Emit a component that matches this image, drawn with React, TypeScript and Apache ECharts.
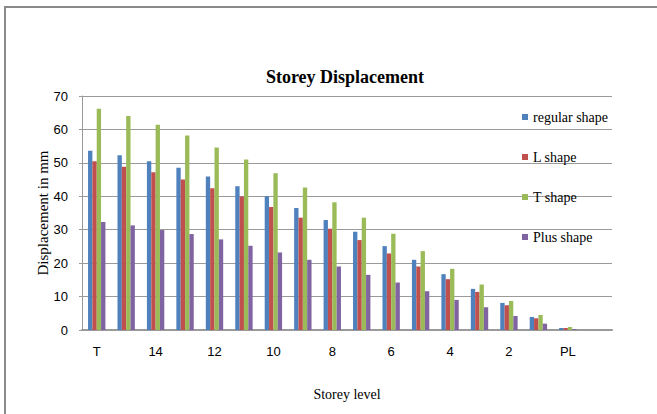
import React, { useEffect, useRef } from "react";
import * as echarts from "echarts";

const categories = ["T", "15", "14", "13", "12", "11", "10", "9", "8", "7", "6", "5", "4", "3", "2", "1", "PL", "Base"];
const regularShape = [53.6, 52.3, 50.5, 48.5, 45.9, 43.0, 40.0, 36.5, 32.9, 29.4, 25.1, 21.0, 16.7, 12.3, 8.1, 3.9, 0.6, 0];
const lShape = [50.5, 48.8, 47.2, 45.0, 42.4, 39.9, 36.8, 33.6, 30.3, 26.9, 22.9, 19.0, 15.2, 11.4, 7.4, 3.5, 0.6, 0];
const tShape = [66.2, 64.0, 61.4, 58.2, 54.6, 51.0, 46.9, 42.6, 38.2, 33.6, 28.8, 23.6, 18.3, 13.6, 8.7, 4.5, 0.9, 0];
const plusShape = [32.3, 31.3, 29.9, 28.7, 27.1, 25.2, 23.2, 21.0, 19.0, 16.5, 14.2, 11.6, 9.0, 6.8, 4.2, 1.9, 0.3, 0];
const yTicks = { min: 0, max: 70, interval: 10 };

const seriesNames = ["regular shape", "L shape", "T shape", "Plus shape"];
const seriesData = [regularShape, lShape, tShape, plusShape];
const colors = ["#4F81BD", "#C0504D", "#9BBB59", "#8064A2"];

export default function App() {
  const ref = useRef<HTMLDivElement>(null);
  useEffect(() => {
    document.body.style.margin = "0";
    if (!ref.current) return;
    const chart = echarts.init(ref.current, null, { renderer: "svg" });
    const serif = "'Liberation Serif', 'Times New Roman', serif";
    const sans = "'Liberation Sans', Arial, sans-serif";
    chart.setOption({
      animation: false,
      backgroundColor: "#ffffff",
      color: colors,
      title: {
        text: "Storey Displacement",
        left: 340,
        top: 63,
        textAlign: "center",
        textStyle: { fontFamily: serif, fontWeight: "bold", fontSize: 18, color: "#000" },
      },
      legend: {
        orient: "vertical",
        left: 517,
        top: 105,
        itemWidth: 6,
        itemHeight: 6,
        itemGap: 26,
        icon: "rect",
        textStyle: { fontFamily: serif, fontSize: 14, color: "#000" },
        data: seriesNames,
      },
      grid: { left: 82, right: 45, top: 96, bottom: 84, containLabel: false },
      xAxis: {
        type: "category",
        data: categories,
        name: "Storey level",
        nameLocation: "middle",
        nameGap: 57,
        nameMoveOverlap: false,
        nameTextStyle: { fontFamily: serif, fontSize: 14, color: "#000" },
        axisLine: { lineStyle: { color: "#9a9a9a", width: 2 } },
        axisTick: { show: false },
        axisLabel: { interval: 1, margin: 15, fontFamily: sans, fontSize: 13, color: "#000" },
      },
      yAxis: {
        type: "value",
        min: yTicks.min,
        max: yTicks.max,
        interval: yTicks.interval,
        name: "Displacement in mm",
        nameLocation: "middle",
        nameGap: 32,
        nameMoveOverlap: false,
        nameTextStyle: { fontFamily: serif, fontSize: 15, color: "#000" },
        axisLine: { show: true, lineStyle: { color: "#9a9a9a", width: 1 } },
        axisTick: { show: true, length: 3, lineStyle: { color: "#9a9a9a" } },
        axisLabel: { margin: 14, fontFamily: sans, fontSize: 13, color: "#000" },
        splitLine: { lineStyle: { color: "#9a9a9a", width: 1 } },
      },
      series: seriesNames.map((name, i) => ({
        name,
        type: "bar",
        data: seriesData[i],
        barGap: "0%",
        barCategoryGap: "41%",
        itemStyle: { color: colors[i] },
      })),
      graphic: [
        { type: "line", shape: { x1: 5, y1: 7, x2: 5, y2: 414 }, style: { stroke: "#8a8a8a", lineWidth: 2 } },
        { type: "line", shape: { x1: 4, y1: 7, x2: 657, y2: 7 }, style: { stroke: "#8a8a8a", lineWidth: 2 } },
      ],
    });
    return () => chart.dispose();
  }, []);
  return <div ref={ref} style={{ width: 657, height: 414 }} />;
}
